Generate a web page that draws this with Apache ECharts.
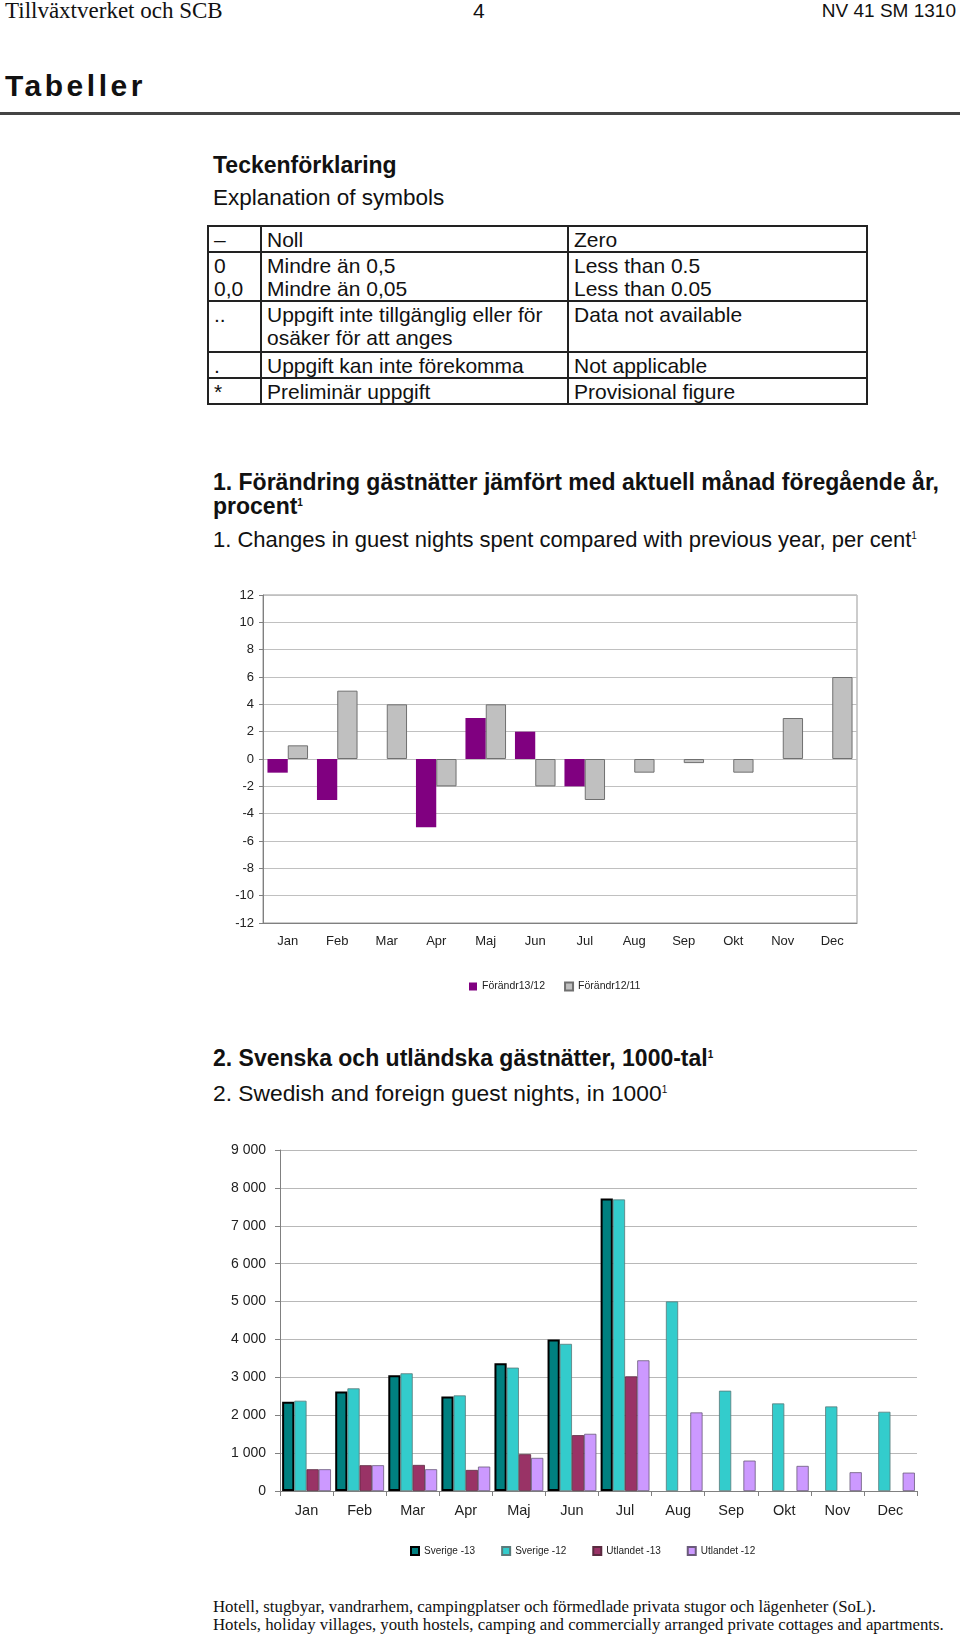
<!DOCTYPE html>
<html>
<head>
<meta charset="utf-8">
<script src="https://cdn.jsdelivr.net/npm/echarts@6/dist/echarts.min.js"></script>
<style>
body { margin: 0; width: 960px; height: 1638px; background: #fff; position: relative; overflow: hidden;
       font-family: "Liberation Sans", Arial, sans-serif; color: #111; }
.t { position: absolute; white-space: nowrap; line-height: 24px; }
.serif { font-family: "Liberation Serif", "Times New Roman", serif; }
.b { font-weight: bold; }
sup { font-size: 10px; vertical-align: 8px; line-height: 0; }
.rule { position: absolute; left: 0; top: 112px; width: 960px; height: 3px; background: #444; }
table.sym { position: absolute; left: 207px; top: 225px; border-collapse: collapse; font-size: 21px; table-layout: fixed; }
table.sym td { border: 2px solid #222; vertical-align: top; padding: 1px 0 0 5px; line-height: 23px; white-space: nowrap; }
#c1 { position: absolute; left: 200px; top: 560px; width: 700px; height: 440px; }
#c2 { position: absolute; left: 200px; top: 1120px; width: 760px; height: 450px; }
</style>
</head>
<body>
<div class="t serif" style="left:5px;top:-1px;font-size:23px;">Tillväxtverket och SCB</div>
<div class="t" style="left:473px;top:-1px;font-size:21px;">4</div>
<div class="t" style="right:4px;top:-1px;font-size:19px;">NV 41 SM 1310</div>
<div class="t b" style="left:5px;top:70px;font-size:30px;letter-spacing:3.5px;line-height:32px;">Tabeller</div>
<div class="rule"></div>

<div class="t b" style="left:213px;top:153px;font-size:23px;">Teckenförklaring</div>
<div class="t" style="left:213px;top:186px;font-size:22.5px;">Explanation of symbols</div>

<table class="sym">
  <colgroup><col style="width:53px"><col style="width:307px"><col style="width:299px"></colgroup>
  <tr style="height:26px"><td>–</td><td>Noll</td><td>Zero</td></tr>
  <tr style="height:49px"><td>0<br>0,0</td><td>Mindre än 0,5<br>Mindre än 0,05</td><td>Less than 0.5<br>Less than 0.05</td></tr>
  <tr style="height:51px"><td>..</td><td>Uppgift inte tillgänglig eller för<br>osäker för att anges</td><td>Data not available</td></tr>
  <tr style="height:26px"><td>.</td><td>Uppgift kan inte förekomma</td><td>Not applicable</td></tr>
  <tr style="height:26px"><td>*</td><td>Preliminär uppgift</td><td>Provisional figure</td></tr>
</table>

<div class="t b" style="left:213px;top:470px;font-size:23px;">1. Förändring gästnätter jämfört med aktuell månad föregående år,</div>
<div class="t b" style="left:213px;top:494px;font-size:23px;">procent<sup>1</sup></div>
<div class="t" style="left:213px;top:528px;font-size:22px;">1. Changes in guest nights spent compared with previous year, per cent<sup>1</sup></div>
<div id="c1"></div>

<div class="t b" style="left:213px;top:1046px;font-size:23px;">2. Svenska och utländska gästnätter, 1000-tal<sup>1</sup></div>
<div class="t" style="left:213px;top:1081px;font-size:22.8px;">2. Swedish and foreign guest nights, in 1000<sup>1</sup></div>
<div id="c2"></div>

<div class="t serif" style="left:213px;top:1597px;font-size:16.8px;line-height:20px;">Hotell, stugbyar, vandrarhem, campingplatser och förmedlade privata stugor och lägenheter (SoL).</div>
<div class="t serif" style="left:213px;top:1615px;font-size:16.8px;line-height:20px;">Hotels, holiday villages, youth hostels, camping and commercially arranged private cottages and apartments.</div>

<script>
// months
const months = ['Jan', 'Feb', 'Mar', 'Apr', 'Maj', 'Jun', 'Jul', 'Aug', 'Sep', 'Okt', 'Nov', 'Dec'];

// chart 1, per cent
const forandr1312 = [-1, -3, null, -5, 3, 2, -2, null, null, null, null, null];
const forandr1211 = [1, 5, 4, -2, 4, -2, -3, -1, -0.3, -1, 3, 6];

// chart 2, 1000-tal
const sverige13 = [2356, 2629, 3053, 2497, 3370, 3997, 7722, null, null, null, null, null];
const sverige12 = [2382, 2709, 3106, 2523, 3256, 3883, 7695, 5003, 2647, 2311, 2232, 2091];
const utlandet13 = [574, 680, 688, 556, 971, 1474, 3026, null, null, null, null, null];
const utlandet12 = [574, 680, 574, 644, 874, 1509, 3449, 2073, 802, 662, 495, 484];

const font = '"Liberation Sans", Arial, sans-serif';

const chart1 = echarts.init(document.getElementById('c1'));
chart1.setOption({
    animation: false,
    textStyle: { fontFamily: font },
    grid: { left: 63, right: 43, top: 35, bottom: 77, show: true, borderColor: '#999', borderWidth: 1 },
    legend: {
        left: 264, top: 416, itemWidth: 8, itemHeight: 8, itemGap: 19, icon: 'rect',
        textStyle: { fontSize: 10.5, color: '#222' },
        data: ['Förändr13/12', 'Förändr12/11']
    },
    xAxis: {
        type: 'category',
        data: months,
        axisLine: { onZero: false, lineStyle: { color: '#808080' } },
        axisTick: { show: false },
        axisLabel: { margin: 12, fontSize: 13, color: '#222' }
    },
    yAxis: {
        type: 'value', min: -12, max: 12, interval: 2,
        axisLine: { show: true, lineStyle: { color: '#808080' } },
        axisTick: { show: true, length: 4, lineStyle: { color: '#808080' } },
        axisLabel: { margin: 9, fontSize: 13, color: '#222' },
        splitLine: { lineStyle: { color: '#C0C0C0' } }
    },
    series: [
        {
            name: 'Förändr13/12', type: 'bar', data: forandr1312,
            barGap: '0%', barCategoryGap: '18%',
            itemStyle: { color: '#800080' }
        },
        {
            name: 'Förändr12/11', type: 'bar', data: forandr1211,
            itemStyle: { color: '#C0C0C0', borderColor: '#707070', borderWidth: 1 }
        }
    ]
});

const chart2 = echarts.init(document.getElementById('c2'));
chart2.setOption({
    animation: false,
    textStyle: { fontFamily: font },
    grid: { left: 80, right: 43, top: 30, bottom: 79 },
    legend: {
        left: 205, top: 421, itemWidth: 8, itemHeight: 8, itemGap: 26, icon: 'rect',
        textStyle: { fontSize: 10, color: '#222' },
        data: ['Sverige -13', 'Sverige -12', 'Utlandet -13', 'Utlandet -12']
    },
    xAxis: {
        type: 'category',
        data: months,
        axisLine: { lineStyle: { color: '#808080' } },
        axisTick: { show: true, interval: 0, length: 5, lineStyle: { color: '#808080' } },
        axisLabel: { margin: 12, fontSize: 14.5, color: '#222' }
    },
    yAxis: {
        type: 'value', min: 0, max: 9000, interval: 1000,
        axisLine: { show: true, lineStyle: { color: '#808080' } },
        axisTick: { show: true, length: 5, lineStyle: { color: '#808080' } },
        axisLabel: {
            margin: 14, fontSize: 14, color: '#222',
            formatter: v => String(v).replace(/\B(?=(\d{3})+(?!\d))/g, ' ')
        },
        splitLine: { lineStyle: { color: '#B8B8B8', width: 1.2 } }
    },
    series: [
        {
            name: 'Sverige -13', type: 'bar', data: sverige13,
            barGap: '0%', barCategoryGap: '8%',
            itemStyle: { color: '#008080', borderColor: '#000', borderWidth: 2 }
        },
        {
            name: 'Sverige -12', type: 'bar', data: sverige12,
            itemStyle: { color: '#33CCCC', borderColor: '#5a7a7a', borderWidth: 0.8 }
        },
        {
            name: 'Utlandet -13', type: 'bar', data: utlandet13,
            itemStyle: { color: '#993366', borderColor: '#5a2a40', borderWidth: 0.8 }
        },
        {
            name: 'Utlandet -12', type: 'bar', data: utlandet12,
            itemStyle: { color: '#CC99FF', borderColor: '#6a5a7a', borderWidth: 0.8 }
        }
    ]
});
</script>
</body>
</html>
